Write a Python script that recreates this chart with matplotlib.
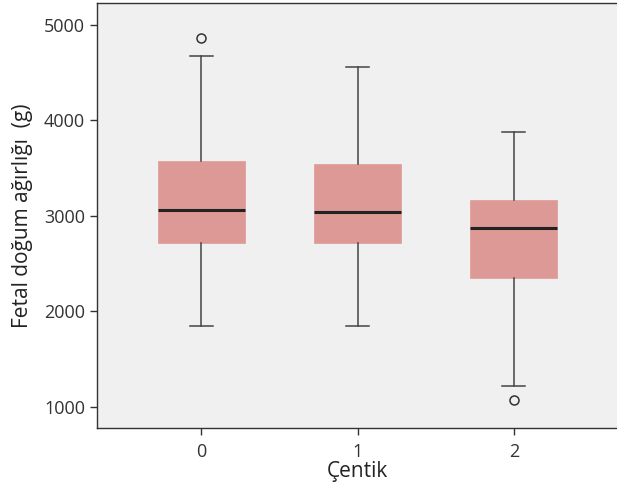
import numpy as np
import matplotlib.pyplot as plt

plt.rcParams['font.family'] = ['Open Sans', 'DejaVu Sans']

categories = ['0', '1', '2']
q1 = [2720, 2717, 2354]
medians = [3066, 3042, 2877]
q3 = [3576, 3545, 3168]
whisker_low = [1848, 1848, 1223]
whisker_high = [4672, 4560, 3883]
outliers = [[4861], [], [1070]]

stats = []
for i in range(len(categories)):
    stats.append({'label': categories[i], 'q1': q1[i], 'med': medians[i], 'q3': q3[i],
                  'whislo': whisker_low[i], 'whishi': whisker_high[i], 'fliers': outliers[i]})

fig = plt.figure(figsize=(6.17, 4.91), dpi=100)
ax = fig.add_axes([97/617, 63/491, 1 - 97/617, 425/491])
ax.set_facecolor('#f0f0f0')

ax.bxp(stats, positions=range(len(categories)), widths=0.557, capwidths=0.147,
       patch_artist=True,
       boxprops=dict(facecolor='#dd9996', edgecolor='#dd9996', linewidth=0.5),
       medianprops=dict(color='#222222', linewidth=2.2),
       whiskerprops=dict(color='#444444', linewidth=1.1),
       capprops=dict(color='#444444', linewidth=1.1),
       flierprops=dict(marker='o', markerfacecolor='none', markeredgecolor='#333333',
                       markersize=6.5, markeredgewidth=1.1))

ax.set_xlim(-0.669, 2.66)
ax.set_ylim(780, 5230)
ax.set_yticks([1000, 2000, 3000, 4000, 5000])
ax.set_xticks(range(len(categories)))
ax.set_xticklabels(categories)
ax.tick_params(axis='both', labelsize=13, colors='#333333', length=5, width=1)
ax.tick_params(axis='x', pad=6)
ax.spines['right'].set_visible(False)
for s in ['left', 'bottom', 'top']:
    ax.spines[s].set_color('#333333')
    ax.spines[s].set_linewidth(1)
ax.set_xlabel('Çentik', fontsize=15, color='#222222', labelpad=0)
ax.set_ylabel('Fetal doğum ağırlığı  (g)', fontsize=15, color='#222222', labelpad=8)

fig.savefig('out.png', dpi=100)
